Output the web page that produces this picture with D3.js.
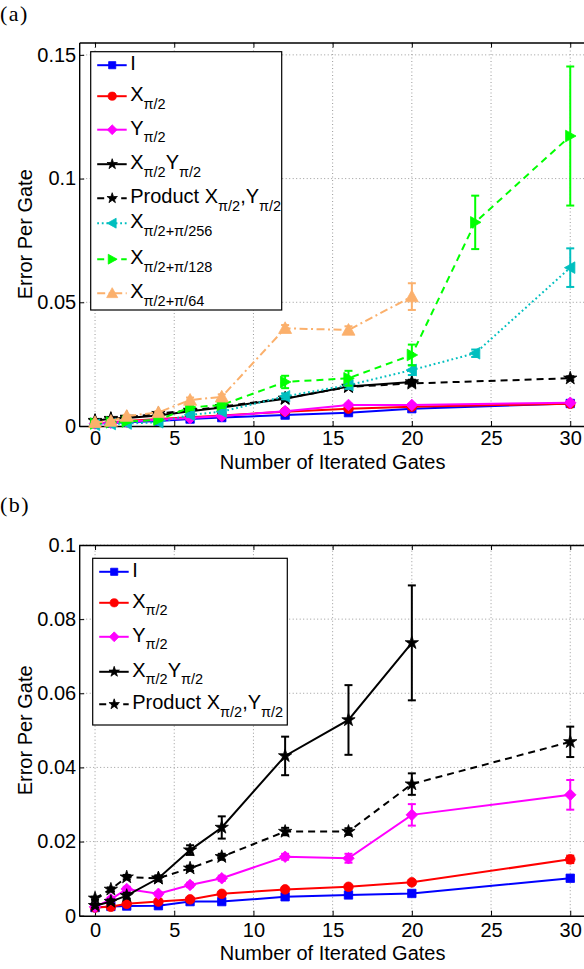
<!DOCTYPE html>
<html><head><meta charset="utf-8">
<script src="https://cdn.jsdelivr.net/npm/d3@7"></script>
<style>body{margin:0;background:#fff}svg{display:block}</style>
</head><body>
<svg id="c" width="584" height="969"></svg>
<script>
// ---------------- DATA ----------------
const xTicks = [0, 5, 10, 15, 20, 25, 30];
const xTickLabels = ["0", "5", "10", "15", "20", "25", "30"];
const yTicksA = [0, 0.05, 0.1, 0.15];
const yTickLabelsA = ["0", "0.05", "0.1", "0.15"];
const yTicksB = [0, 0.02, 0.04, 0.06, 0.08, 0.1];
const yTickLabelsB = ["0", "0.02", "0.04", "0.06", "0.08", "0.1"];

const gates = [0, 1, 2, 4, 6, 8, 12, 16, 20, 30];
const gatesTo20 = [0, 1, 2, 4, 6, 8, 12, 16, 20];
const gatesWith24 = [0, 1, 2, 4, 6, 8, 12, 16, 20, 24, 30];

// panel (a)
const aI     = [0.0010, 0.0012, 0.0015, 0.0020, 0.0028, 0.0034, 0.0044, 0.0054, 0.0070, 0.0091];
const aIErr  = [0.0003, 0.0003, 0.0003, 0.0003, 0.0003, 0.0003, 0.0004, 0.0004, 0.0004, 0.0005];
const aX     = [0.0010, 0.0015, 0.0020, 0.0028, 0.0035, 0.0042, 0.0058, 0.0070, 0.0078, 0.0090];
const aXErr  = [0.0003, 0.0003, 0.0003, 0.0003, 0.0003, 0.0003, 0.0004, 0.0005, 0.0005, 0.0005];
const aY     = [0.0010, 0.0013, 0.0017, 0.0025, 0.0032, 0.0040, 0.0060, 0.0085, 0.0085, 0.0094];
const aYErr  = [0.0003, 0.0003, 0.0003, 0.0003, 0.0003, 0.0003, 0.0004, 0.0005, 0.0005, 0.0005];
const aXY    = [0.0020, 0.0030, 0.0032, 0.0042, 0.0060, 0.0075, 0.0110, 0.0160, 0.0178];
const aXYErr = [0.0003, 0.0003, 0.0003, 0.0004, 0.0004, 0.0005, 0.0006, 0.0008, 0.0009];
const aP     = [0.0022, 0.0028, 0.0035, 0.0050, 0.0063, 0.0078, 0.0112, 0.0158, 0.0172, 0.0193];
const aPErr  = [0.0003, 0.0003, 0.0003, 0.0004, 0.0004, 0.0005, 0.0006, 0.0007, 0.0008, 0.0008];
const a256   = [0.0005, 0.0008, 0.0010, 0.0015, 0.0045, 0.0058, 0.0120, 0.0165, 0.0226, 0.0294, 0.0640];
const a256Err= [0.0004, 0.0004, 0.0004, 0.0005, 0.0008, 0.0008, 0.0012, 0.0015, 0.0020, 0.0015, 0.0078];
const a128   = [0.0010, 0.0015, 0.0018, 0.0025, 0.0075, 0.0085, 0.0178, 0.0193, 0.0287, 0.0823, 0.1172];
const a128Err= [0.0004, 0.0004, 0.0005, 0.0005, 0.0010, 0.0012, 0.0025, 0.0030, 0.0042, 0.0108, 0.0281];
const a64    = [0.0015, 0.0020, 0.0040, 0.0055, 0.0105, 0.0118, 0.0395, 0.0388, 0.0523];
const a64Err = [0.0004, 0.0004, 0.0005, 0.0005, 0.0010, 0.0010, 0.0013, 0.0015, 0.0054];

// panel (b)
const bI     = [0.0022, 0.0025, 0.0026, 0.0027, 0.0038, 0.0038, 0.0051, 0.0056, 0.0060, 0.0101];
const bIErr  = [0.0003, 0.0003, 0.0003, 0.0003, 0.0003, 0.0003, 0.0004, 0.0004, 0.0004, 0.0007];
const bX     = [0.0022, 0.0024, 0.0032, 0.0038, 0.0044, 0.0059, 0.0071, 0.0078, 0.0090, 0.0152];
const bXErr  = [0.0003, 0.0003, 0.0003, 0.0003, 0.0003, 0.0004, 0.0004, 0.0004, 0.0005, 0.0010];
const bY     = [0.0024, 0.0044, 0.0072, 0.0059, 0.0083, 0.0101, 0.0159, 0.0155, 0.0272, 0.0326];
const bYErr  = [0.0004, 0.0005, 0.0006, 0.0005, 0.0006, 0.0007, 0.0008, 0.0012, 0.0029, 0.0040];
const bXY    = [0.0027, 0.0038, 0.0054, 0.0101, 0.0177, 0.0238, 0.0431, 0.0528, 0.0736];
const bXYErr = [0.0005, 0.0006, 0.0008, 0.0008, 0.0013, 0.0030, 0.0052, 0.0094, 0.0155];
const bP     = [0.0047, 0.0071, 0.0104, 0.0101, 0.0128, 0.0159, 0.0227, 0.0227, 0.0355, 0.0469];
const bPErr  = [0.0004, 0.0005, 0.0006, 0.0006, 0.0007, 0.0008, 0.0010, 0.0009, 0.0029, 0.0041];

// legend labels (text parts, true = subscript)
const labelI   = [["I", false]];
const labelX   = [["X", false], ["π/2", true]];
const labelY   = [["Y", false], ["π/2", true]];
const labelXY  = [["X", false], ["π/2", true], ["Y", false], ["π/2", true]];
const labelP   = [["Product X", false], ["π/2", true], [",", false], ["Y", false], ["π/2", true]];
const label256 = [["X", false], ["π/2+π/256", true]];
const label128 = [["X", false], ["π/2+π/128", true]];
const label64  = [["X", false], ["π/2+π/64", true]];

const xTitle = "Number of Iterated Gates";
const yTitle = "Error Per Gate";

// ---------------- STYLES ----------------
const ST = {
  I:  {color: "#0000ff", dash: null, marker: "square", r: 4.2},
  X:  {color: "#ff0000", dash: null, marker: "circle", r: 4.8},
  Y:  {color: "#ff00ff", dash: null, marker: "diamond", r: 5.8},
  XY: {color: "#000000", dash: null, marker: "star", r: 7},
  P:  {color: "#000000", dash: "7,5", marker: "star", r: 7},
  C:  {color: "#00bfbf", dash: "1.8,2.8", marker: "triLeft", r: 5.8},
  G:  {color: "#00ff00", dash: "7,5", marker: "triRight", r: 5.8},
  O:  {color: "#fbb06c", dash: "8,3.5,2,3.5", marker: "triUp", r: 6.5}
};

const SANS = "'Liberation Sans', Arial, Helvetica, sans-serif";
const svg = d3.select("#c");

function markerPath(type, r) {
  switch (type) {
    case "square": return `M${-r},${-r}H${r}V${r}H${-r}Z`;
    case "circle": return d3.symbol(d3.symbolCircle, Math.PI * r * r)();
    case "diamond": return `M0,${-r}L${r},0L0,${r}L${-r},0Z`;
    case "star": return d3.symbol(d3.symbolStar, r * r / 0.8908130915292852)();
    case "triLeft": return `M${-r},0L${r * 0.8},${-r}L${r * 0.8},${r}Z`;
    case "triRight": return `M${r},0L${-r * 0.8},${-r}L${-r * 0.8},${r}Z`;
    case "triUp": return `M0,${-r}L${r},${r * 0.8}L${-r},${r * 0.8}Z`;
  }
}

function addLabel(sel, parts) {
  let prevSub = false;
  parts.forEach(([t, sub]) => {
    const ts = sel.append("tspan").text(t);
    if (sub) { ts.attr("font-size", 14.5); if (!prevSub) ts.attr("dy", 7.5); }
    else if (prevSub) ts.attr("dy", -7.5);
    prevSub = sub;
  });
}

function panel(p) {
  const g = svg.append("g");
  const x = d3.scaleLinear().domain([-1, 31]).range([79.2, 79.2 + 32 * 15.84]);
  const y = d3.scaleLinear().domain(p.yDomain).range([p.bottom, p.top]);

  // grid
  const grid = g.append("g").attr("stroke", "#9a9a9a").attr("stroke-width", 1).attr("stroke-dasharray", "1,2.5");
  grid.selectAll("line.vx").data(xTicks).join("line")
    .attr("x1", d => x(d)).attr("x2", d => x(d)).attr("y1", p.bottom).attr("y2", p.top);
  grid.selectAll("line.hy").data(p.yTicks.filter(d => d > 0)).join("line")
    .attr("y1", d => y(d)).attr("y2", d => y(d)).attr("x1", x(-1)).attr("x2", x(31));

  // axes
  const fmtX = (d, i) => xTickLabels[i];
  const fmtY = (d, i) => p.yTickLabels[i];
  const ax = [
    g.append("g").attr("transform", `translate(0,${p.bottom})`)
      .call(d3.axisBottom(x).tickValues(xTicks).tickFormat(fmtX).tickSize(-5).tickSizeOuter(0).tickPadding(p.xPad)),
    g.append("g").attr("transform", `translate(0,${p.top})`)
      .call(d3.axisTop(x).tickValues(xTicks).tickFormat("").tickSize(-5).tickSizeOuter(0)),
    g.append("g").attr("transform", `translate(${x(-1)},0)`)
      .call(d3.axisLeft(y).tickValues(p.yTicks).tickFormat(fmtY).tickSize(-5).tickSizeOuter(0).tickPadding(3))
  ];
  ax.forEach(a => {
    a.select(".domain").attr("stroke", "#000").attr("stroke-width", 1.4);
    a.selectAll(".tick line").attr("stroke", "#000").attr("stroke-width", 1);
    a.selectAll(".tick text").attr("font-family", SANS).attr("font-size", 20).attr("fill", "#000");
  });

  // titles
  g.append("text").attr("x", (x(-1) + x(31)) / 2).attr("y", p.bottom + p.titleOff)
    .attr("text-anchor", "middle").attr("font-family", SANS).attr("font-size", 20).text(xTitle);
  g.append("text").attr("transform", `translate(32,${(p.top + p.bottom) / 2}) rotate(-90)`)
    .attr("text-anchor", "middle").attr("font-family", SANS).attr("font-size", 20).text(yTitle);
  g.append("text").attr("x", 0).attr("y", p.tagY).attr("font-family", "'Liberation Serif', 'DejaVu Serif', serif")
    .attr("font-size", 22).attr("letter-spacing", 1.5).text(p.tag);

  // series
  p.series.forEach(s => {
    const st = ST[s.style];
    const pts = s.x.map((xv, i) => ({x: xv, v: s.v[i], e: s.e[i]}));
    const sg = g.append("g");
    sg.append("path").datum(pts)
      .attr("d", d3.line().x(d => x(d.x)).y(d => y(d.v)))
      .attr("fill", "none").attr("stroke", st.color).attr("stroke-width", 2)
      .attr("stroke-dasharray", st.dash);
    const eb = sg.append("g").attr("stroke", st.color).attr("stroke-width", 2);
    eb.selectAll("line.v").data(pts).join("line")
      .attr("x1", d => x(d.x)).attr("x2", d => x(d.x)).attr("y1", d => y(d.v - d.e)).attr("y2", d => y(d.v + d.e));
    eb.selectAll("line.t").data(pts).join("line")
      .attr("x1", d => x(d.x) - 4).attr("x2", d => x(d.x) + 4).attr("y1", d => y(d.v + d.e)).attr("y2", d => y(d.v + d.e));
    eb.selectAll("line.b").data(pts).join("line")
      .attr("x1", d => x(d.x) - 4).attr("x2", d => x(d.x) + 4).attr("y1", d => y(d.v - d.e)).attr("y2", d => y(d.v - d.e));
    sg.selectAll("path.m").data(pts).join("path")
      .attr("d", markerPath(st.marker, st.r))
      .attr("transform", d => `translate(${x(d.x)},${y(d.v)})`)
      .attr("fill", st.color).attr("stroke", st.color).attr("stroke-width", 0.8);
  });

  // legend
  const L = p.legend;
  const lg = g.append("g").attr("transform", `translate(${L.x},${L.y})`);
  lg.append("rect").attr("width", L.w).attr("height", L.h).attr("fill", "#fff")
    .attr("stroke", "#000").attr("stroke-width", 1.2);
  p.series.forEach((s, i) => {
    const st = ST[s.style];
    const ly = L.rows[i];
    lg.append("line").attr("x1", 6.5).attr("x2", 36).attr("y1", ly).attr("y2", ly)
      .attr("stroke", st.color).attr("stroke-width", 2).attr("stroke-dasharray", st.dash);
    lg.append("path").attr("d", markerPath(st.marker, st.marker === "star" ? 5.5 : st.r * 0.85))
      .attr("transform", `translate(21.5,${ly})`).attr("fill", st.color).attr("stroke", st.color).attr("stroke-width", 0.8);
    const t = lg.append("text").attr("x", 39.5).attr("y", ly + 5).attr("font-family", SANS).attr("font-size", 20);
    addLabel(t, s.label);
  });
}

panel({
  top: 42.5, bottom: 426, yDomain: [0, 0.155], yTicks: yTicksA, yTickLabels: yTickLabelsA,
  tag: "(a)", tagY: 20.5, xPad: 5, titleOff: 42.5,
  legend: {x: 90.7, y: 51.7, w: 191, h: 258.3, rows: [13.5, 44.5, 78, 112.5, 146.5, 171.5, 207.5, 241.5]},
  series: [
    {style: "I", x: gates, v: aI, e: aIErr, label: labelI},
    {style: "X", x: gates, v: aX, e: aXErr, label: labelX},
    {style: "Y", x: gates, v: aY, e: aYErr, label: labelY},
    {style: "XY", x: gatesTo20, v: aXY, e: aXYErr, label: labelXY},
    {style: "P", x: gates, v: aP, e: aPErr, label: labelP},
    {style: "C", x: gatesWith24, v: a256, e: a256Err, label: label256},
    {style: "G", x: gatesWith24, v: a128, e: a128Err, label: label128},
    {style: "O", x: gatesTo20, v: a64, e: a64Err, label: label64}
  ]
});

panel({
  top: 545, bottom: 915.7, yDomain: [0, 0.1], yTicks: yTicksB, yTickLabels: yTickLabelsB,
  tag: "(b)", tagY: 511.5, xPad: 7, titleOff: 44,
  legend: {x: 92.7, y: 558.3, w: 194.6, h: 166.7, rows: [13.5, 44.5, 78.5, 113.5, 146]},
  series: [
    {style: "I", x: gates, v: bI, e: bIErr, label: labelI},
    {style: "X", x: gates, v: bX, e: bXErr, label: labelX},
    {style: "Y", x: gates, v: bY, e: bYErr, label: labelY},
    {style: "XY", x: gatesTo20, v: bXY, e: bXYErr, label: labelXY},
    {style: "P", x: gates, v: bP, e: bPErr, label: labelP}
  ]
});
</script>
</body></html>
